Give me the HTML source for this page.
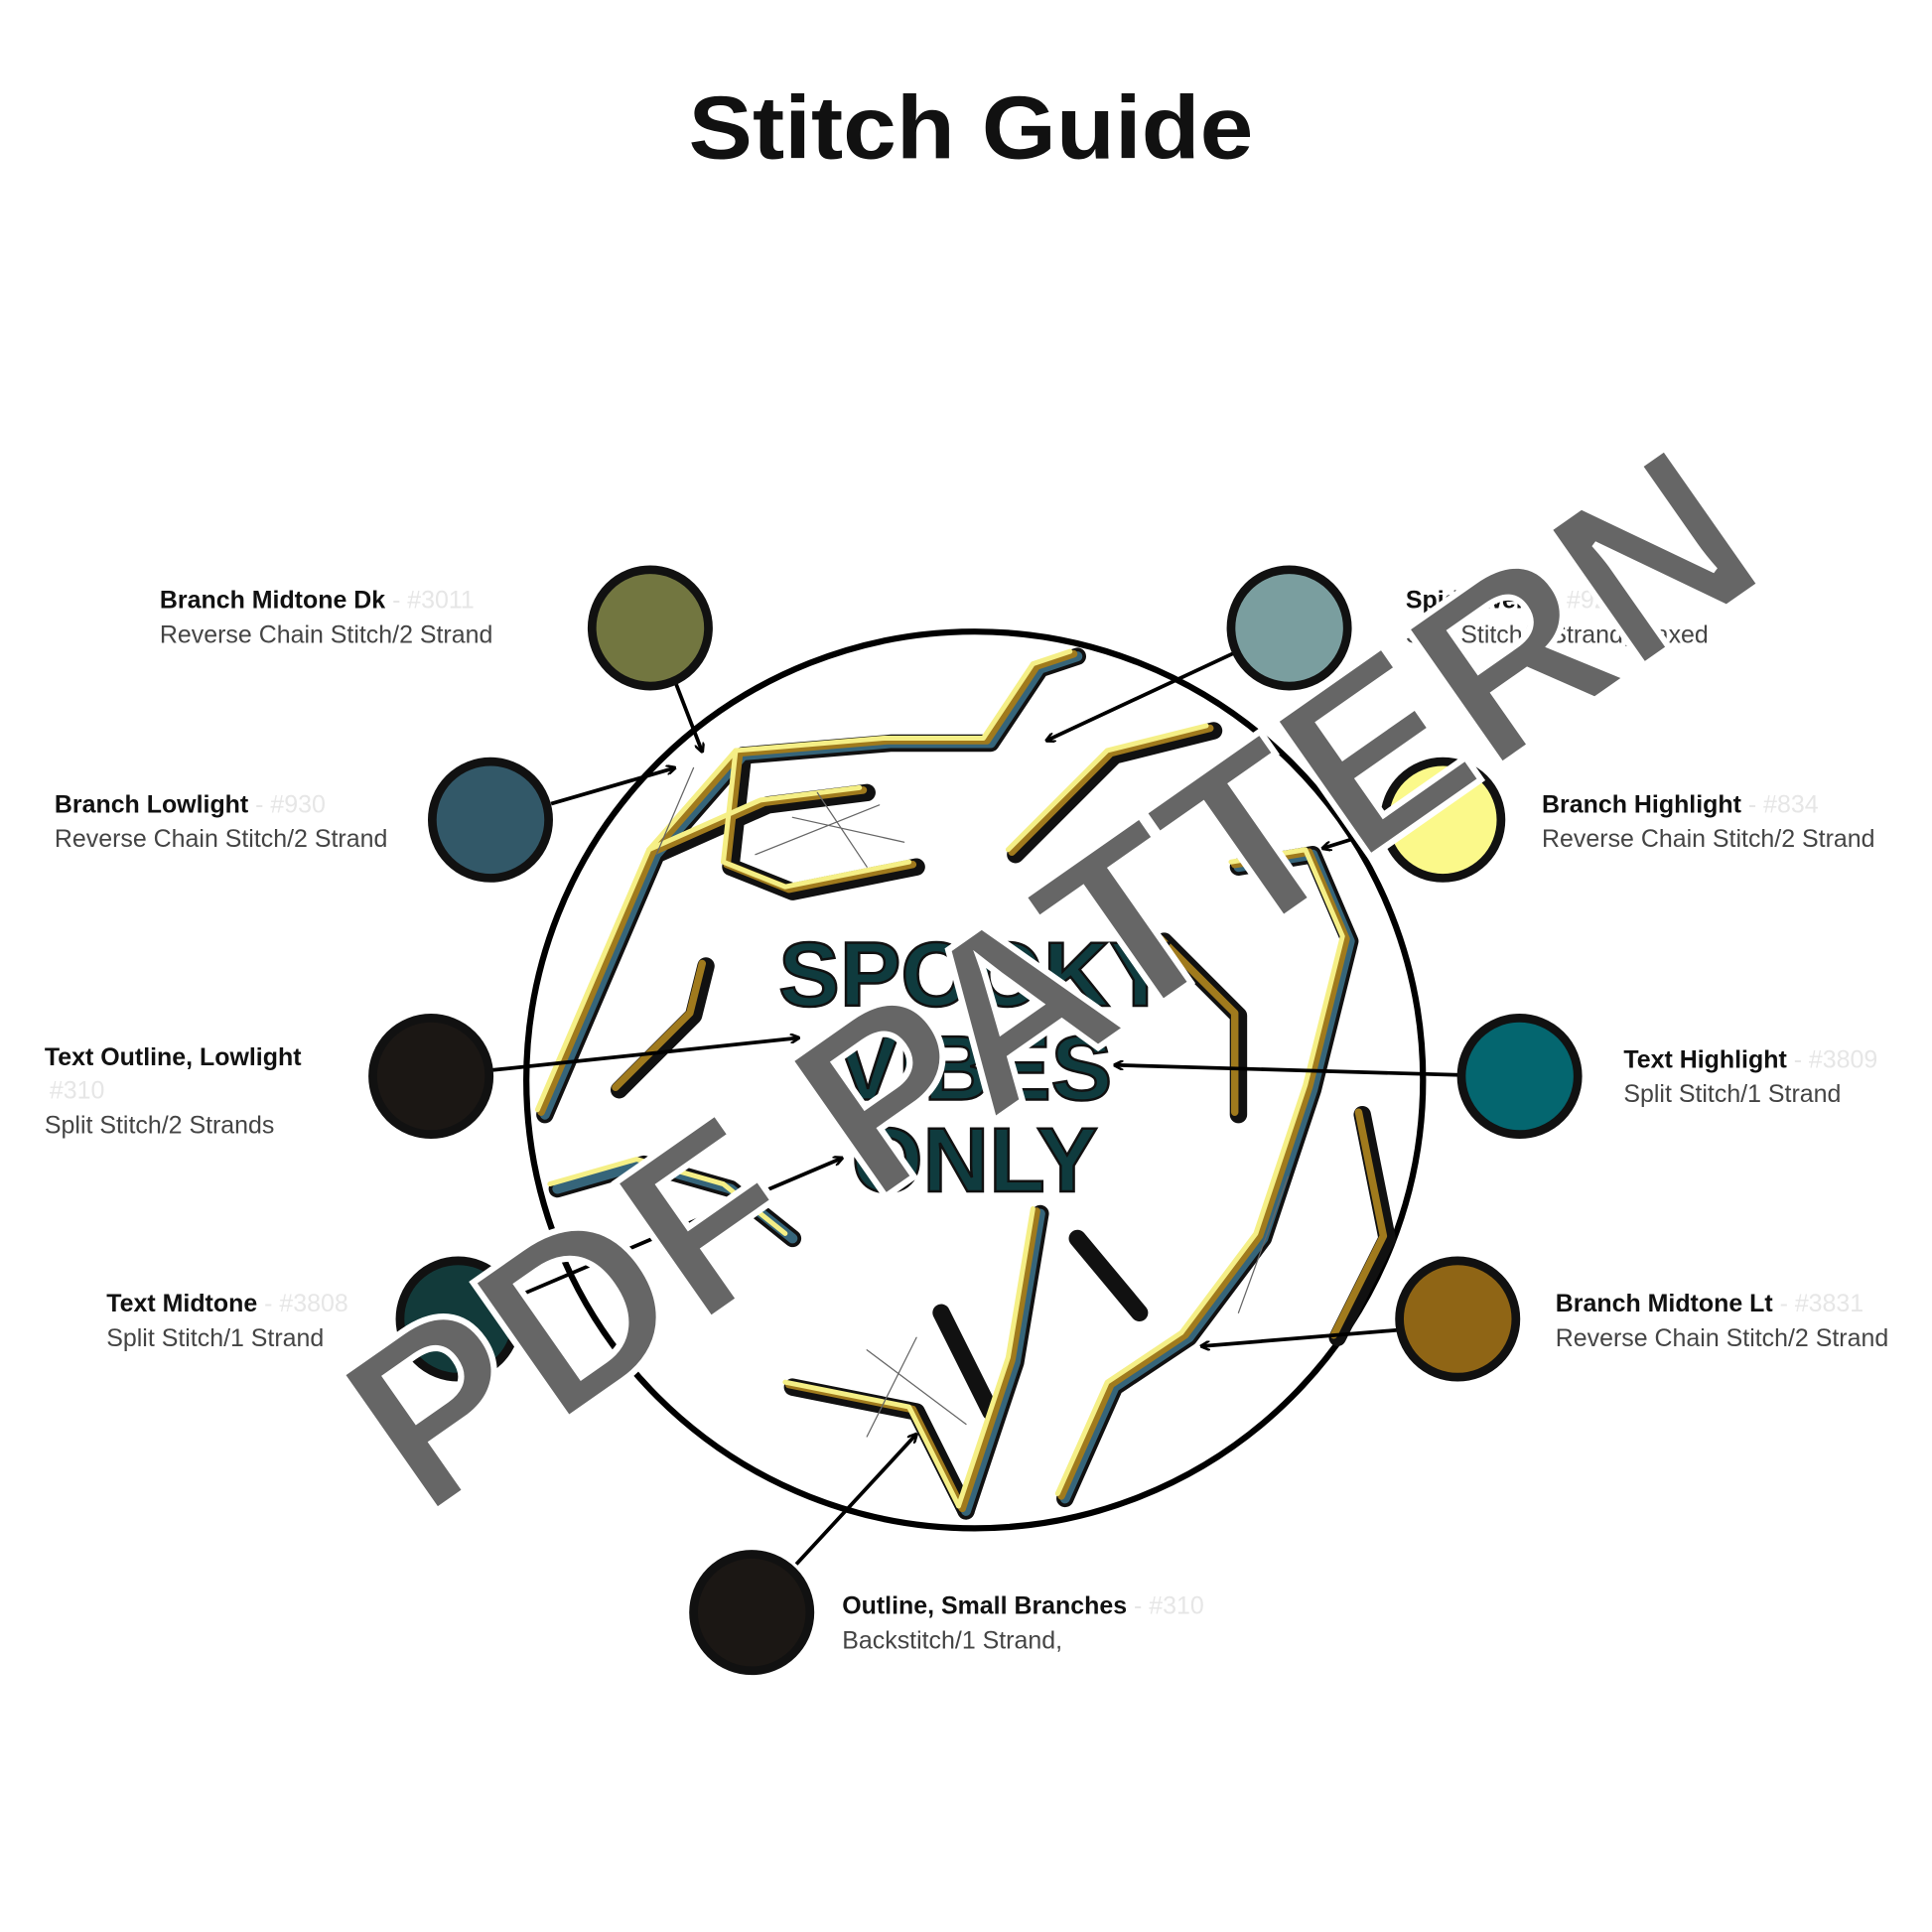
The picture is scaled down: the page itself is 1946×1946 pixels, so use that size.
<!DOCTYPE html>
<html><head><meta charset="utf-8"><style>
html,body{margin:0;padding:0;background:#fff}
svg{display:block}
.b{font-family:"Liberation Sans",sans-serif;font-weight:bold;font-size:20px;fill:#111}
.n{font-family:"Liberation Sans",sans-serif;font-size:20px;fill:#444}
.c{font-family:"Liberation Sans",sans-serif;font-size:20px;fill:#e6e6e6}
</style></head><body>
<svg width="1946" height="1946" viewBox="0 0 1560 1560" xmlns="http://www.w3.org/2000/svg">
<defs><marker id="a" markerWidth="8" markerHeight="8" refX="7" refY="4" orient="auto" markerUnits="userSpaceOnUse"><path d="M0,0 L8,4 L0,8" fill="none" stroke="#000" stroke-width="2"/></marker></defs>
<text x="784" y="128" text-anchor="middle" font-family="Liberation Sans,sans-serif" font-weight="bold" font-size="72" fill="#111" textLength="456" lengthAdjust="spacingAndGlyphs">Stitch Guide</text>
<circle cx="787" cy="872" r="362" fill="#fff" stroke="#000" stroke-width="5"/>
<g fill="none" stroke-linejoin="round" stroke-linecap="round">
<g stroke="#111" stroke-width="14">
<path d="M440,900 L500,760 L530,690 L600,610 L720,600 L800,600 L840,540 L870,530"/>
<path d="M530,690 L620,650 L700,640"/>
<path d="M600,610 L590,700 L640,720 L740,700"/>
<path d="M820,690 L900,610 L980,590"/>
<path d="M1000,700 L1060,690 L1090,760 L1060,880 L1020,1000 L960,1080 L900,1120 L860,1210"/>
<path d="M780,1220 L820,1100 L840,980"/>
<path d="M800,1140 L760,1060"/>
<path d="M640,1120 L740,1140 L780,1220"/>
<path d="M450,960 L520,940 L590,960 L640,1000"/>
<path d="M1100,900 L1120,1000 L1080,1080"/>
<path d="M940,760 L1000,820 L1000,900"/>
<path d="M500,880 L560,820 L570,780"/>
<path d="M870,1000 L920,1060"/>
</g>
<g stroke="#36657a" stroke-width="8">
<path d="M440,900 L500,760 L530,690 L600,610 L720,600 L800,600 L840,540 L870,530"/>
<path d="M1000,700 L1060,690 L1090,760 L1060,880 L1020,1000 L960,1080 L900,1120 L860,1210"/>
<path d="M780,1220 L820,1100 L840,980"/>
<path d="M450,960 L520,940 L590,960 L640,1000"/>
</g>
<g stroke="#a07a1d" stroke-width="6" transform="translate(-3,-2)">
<path d="M440,900 L500,760 L530,690 L600,610 L720,600 L800,600 L840,540 L870,530"/>
<path d="M530,690 L620,650 L700,640"/>
<path d="M600,610 L590,700 L640,720 L740,700"/>
<path d="M820,690 L900,610 L980,590"/>
<path d="M1000,700 L1060,690 L1090,760 L1060,880 L1020,1000 L960,1080 L900,1120 L860,1210"/>
<path d="M780,1220 L820,1100 L840,980"/>
<path d="M640,1120 L740,1140 L780,1220"/>
<path d="M1100,900 L1120,1000 L1080,1080"/>
<path d="M940,760 L1000,820 L1000,900"/>
<path d="M500,880 L560,820 L570,780"/>
</g>
<g stroke="#f5ef86" stroke-width="4" transform="translate(-6,-4)">
<path d="M440,900 L500,760 L530,690 L600,610 L720,600 L800,600 L840,540 L870,530"/>
<path d="M530,690 L620,650 L700,640"/>
<path d="M600,610 L590,700 L640,720 L740,700"/>
<path d="M820,690 L900,610 L980,590"/>
<path d="M1000,700 L1060,690 L1090,760 L1060,880 L1020,1000 L960,1080 L900,1120 L860,1210"/>
<path d="M780,1220 L820,1100 L840,980"/>
<path d="M640,1120 L740,1140 L780,1220"/>
<path d="M450,960 L520,940 L590,960 L640,1000"/>
</g>
<g stroke="#666" stroke-width="1">
<path d="M610,690 L710,650 M660,640 L700,700 M640,660 L730,680 M560,620 L530,690 M700,1090 L780,1150 M740,1080 L700,1160 M1040,950 L1000,1060"/>
</g>
</g>
<text x="787" y="812" text-anchor="middle" font-family="Liberation Sans,sans-serif" font-weight="bold" font-size="74" fill="#0f3b3e" stroke="#111" stroke-width="2">SPOOKY</text>
<text x="787" y="888" text-anchor="middle" font-family="Liberation Sans,sans-serif" font-weight="bold" font-size="74" fill="#0f3b3e" stroke="#111" stroke-width="2">VIBES</text>
<text x="787" y="962" text-anchor="middle" font-family="Liberation Sans,sans-serif" font-weight="bold" font-size="74" fill="#0f3b3e" stroke="#111" stroke-width="2">ONLY</text>
<g stroke="#000" stroke-width="3" marker-end="url(#a)">
<line x1="545" y1="550" x2="567" y2="607"/>
<line x1="445" y1="649" x2="545" y2="620"/>
<line x1="398" y1="864" x2="645" y2="838"/>
<line x1="1178" y1="868" x2="900" y2="860"/>
<line x1="997" y1="527" x2="845" y2="598"/>
<line x1="1116" y1="670" x2="1068" y2="685"/>
<line x1="1128" y1="1074" x2="970" y2="1087"/>
<line x1="643" y1="1263" x2="740" y2="1158"/>
<line x1="410" y1="1050" x2="680" y2="935"/>
</g>
<g stroke="#111" stroke-width="7">
<circle cx="525" cy="507" r="47" fill="#727640"/>
<circle cx="1041" cy="507" r="47" fill="#7a9e9f"/>
<circle cx="396" cy="662" r="47" fill="#325868"/>
<circle cx="1165" cy="662" r="47" fill="#fbf98a"/>
<circle cx="348" cy="869" r="47" fill="#1b1714"/>
<circle cx="1227" cy="869" r="47" fill="#04666f"/>
<circle cx="370" cy="1065" r="47" fill="#123a3a"/>
<circle cx="1177" cy="1065" r="47" fill="#8f6515"/>
<circle cx="607" cy="1302" r="47" fill="#1b1714"/>
</g>
<text x="129" y="491"><tspan class="b">Branch Midtone Dk</tspan><tspan class="c"> - #3011</tspan></text>
<text x="129" y="519" class="n">Reverse Chain Stitch/2 Strand</text>
<text x="44" y="656"><tspan class="b">Branch Lowlight</tspan><tspan class="c"> - #930</tspan></text>
<text x="44" y="684" class="n">Reverse Chain Stitch/2 Strand</text>
<text x="36" y="860" class="b">Text Outline, Lowlight</text>
<text x="40" y="887" class="c">#310</text>
<text x="36" y="915" class="n">Split Stitch/2 Strands</text>
<text x="86" y="1059"><tspan class="b">Text Midtone</tspan><tspan class="c"> - #3808</tspan></text>
<text x="86" y="1087" class="n">Split Stitch/1 Strand</text>
<text x="1135" y="491"><tspan class="b">Spiderwebs</tspan><tspan class="c"> - #926</tspan></text>
<text x="1135" y="519" class="n">Split Stitch/1 Strand, waxed</text>
<text x="1245" y="656"><tspan class="b">Branch Highlight</tspan><tspan class="c"> - #834</tspan></text>
<text x="1245" y="684" class="n">Reverse Chain Stitch/2 Strand</text>
<text x="1311" y="862"><tspan class="b">Text Highlight</tspan><tspan class="c"> - #3809</tspan></text>
<text x="1311" y="890" class="n">Split Stitch/1 Strand</text>
<text x="1256" y="1059"><tspan class="b">Branch Midtone Lt</tspan><tspan class="c"> - #3831</tspan></text>
<text x="1256" y="1087" class="n">Reverse Chain Stitch/2 Strand</text>
<text x="680" y="1303"><tspan class="b">Outline, Small Branches</tspan><tspan class="c"> - #310</tspan></text>
<text x="680" y="1331" class="n">Backstitch/1 Strand,</text>
<text transform="translate(848,790) rotate(-35)" text-anchor="middle" font-family="Liberation Sans,sans-serif" font-weight="bold" font-size="195" fill="#666" stroke="#fff" stroke-width="5" textLength="1330" lengthAdjust="spacingAndGlyphs" y="68">PDF PATTERN</text>
</svg>
</body></html>
